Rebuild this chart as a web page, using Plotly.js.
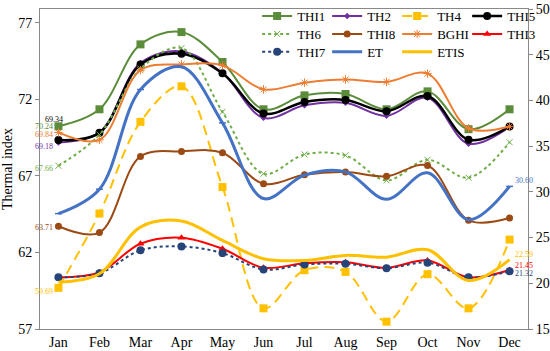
<!DOCTYPE html>
<html>
<head>
<meta charset="utf-8">
<script src="https://cdn.plot.ly/plotly-3.0.1.min.js"></script>
<style>html,body{margin:0;padding:0;background:#fff;}#chart{width:550px;height:351px;}</style>
</head>
<body>
<div id="chart"></div>
<script>
var months = ['Jan','Feb','Mar','Apr','May','Jun','Jul','Aug','Sep','Oct','Nov','Dec'];

// Left axis (Thermal index)
var THI1 = [70.24, 71.35, 75.59, 76.39, 74.44, 71.35, 72.26, 72.35, 71.35, 72.52, 70.05, 71.35];
var TH2  = [69.18, 69.85, 74.37, 75.13, 73.72, 70.79, 71.61, 71.77, 70.92, 72.10, 69.10, 70.20];
var TH4  = [59.69, 64.54, 70.53, 72.85, 66.27, 58.35, 60.84, 60.73, 57.48, 60.58, 58.35, 62.84];
var THI5 = [69.34, 69.81, 74.28, 74.98, 73.70, 71.07, 71.83, 71.96, 71.22, 72.22, 69.36, 70.22];
var TH6  = [67.66, 69.70, 74.00, 75.35, 71.18, 67.14, 68.40, 68.34, 66.71, 68.05, 66.88, 69.20];
var THI8 = [63.71, 63.30, 68.27, 68.60, 68.51, 66.49, 67.08, 67.25, 66.97, 67.68, 64.10, 64.25];
var BGHI = [69.84, 69.35, 73.90, 74.28, 74.22, 72.65, 73.09, 73.29, 73.14, 73.68, 70.11, 70.22];

// Right axis
var THI3 = [20.66, 21.21, 24.33, 24.99, 23.78, 21.70, 22.20, 22.31, 21.70, 22.50, 20.66, 21.45];
var THI7 = [20.66, 21.10, 23.60, 24.03, 23.30, 21.51, 22.06, 22.13, 21.65, 22.25, 20.66, 21.32];
var ET   = [27.62, 30.29, 41.19, 43.68, 37.54, 29.27, 31.83, 32.19, 29.19, 32.08, 26.96, 30.60];
var ETIS = [20.12, 21.04, 26.15, 26.81, 24.69, 22.68, 22.50, 23.05, 22.86, 23.67, 20.30, 22.59];

var FONT = 'Liberation Serif, Times New Roman, serif';

function tr(name, y, color, opts) {
  return {
    type: 'scatter', mode: opts.mode || 'lines+markers', name: name, x: months, y: y,
    yaxis: opts.yaxis || 'y', legend: opts.legend,
    line: {color: color, width: opts.width || 2, shape: 'spline', smoothing: 1, dash: opts.dash || 'solid'},
    marker: {color: color, symbol: opts.symbol || 'circle', size: opts.size || 7,
             line: {color: color, width: opts.mlw || 0}},
    cliponaxis: false
  };
}

var data = [
  tr('THI1', THI1, '#5b8c3a', {symbol: 'square', size: 8, legend: 'legend'}),
  tr('TH2', TH2, '#7030a0', {symbol: 'diamond', size: 5, legend: 'legend'}),
  tr('TH4', TH4, '#ffc000', {symbol: 'square', size: 8, dash: '10px,6px', legend: 'legend'}),
  tr('THI5', THI5, '#000000', {symbol: 'circle', size: 8, width: 2.5, legend: 'legend'}),
  tr('TH6', TH6, '#70ad47', {symbol: 'x-thin-open', size: 6, mlw: 1, dash: 'dot', legend: 'legend2'}),
  tr('THI8', THI8, '#9c4a14', {symbol: 'circle', size: 7, legend: 'legend2'}),
  tr('BGHI', BGHI, '#ed7d31', {symbol: 'asterisk-open', size: 7, mlw: 1, legend: 'legend2'}),
  tr('THI3', THI3, '#ff0000', {symbol: 'triangle-up', size: 7, yaxis: 'y2', legend: 'legend2'}),
  tr('THI7', THI7, '#264478', {symbol: 'circle', size: 8, dash: 'dot', yaxis: 'y2', legend: 'legend3'}),
  tr('ET', ET, '#4472c4', {mode: 'lines+markers', symbol: 'line-ew-open', size: 5, mlw: 1.5, width: 3, yaxis: 'y2', legend: 'legend3'}),
  tr('ETIS', ETIS, '#ffc000', {mode: 'lines', width: 3, yaxis: 'y2', legend: 'legend3'})
];

var labelsLeft = [
  {v: THI5[0], c: '#000000', xs: -4, ys: 21, xa: 'center'},
  {v: THI1[0], c: '#5b8c3a', xs: -3, ys: 0, xa: 'right'},
  {v: BGHI[0], c: '#ed7d31', xs: -3, ys: -2, xa: 'right'},
  {v: TH2[0], c: '#7030a0', xs: -3, ys: -4, xa: 'right'},
  {v: TH6[0], c: '#70ad47', xs: -3, ys: -3, xa: 'right'},
  {v: THI8[0], c: '#9c4a14', xs: -3, ys: -1, xa: 'right'},
  {v: TH4[0], c: '#ffc000', xs: -3, ys: -4, xa: 'right'}
];
var labelsRight = [
  {v: ET[11], c: '#4472c4', xs: 3, ys: 6, xa: 'left'},
  {v: ETIS[11], c: '#ffc000', xs: 3, ys: 5, xa: 'left'},
  {v: THI3[11], c: '#ff0000', xs: 3, ys: 5, xa: 'left'},
  {v: THI7[11], c: '#264478', xs: 3, ys: -2, xa: 'left'}
];
var annotations = [];
labelsLeft.forEach(function(l){
  annotations.push({x: months[0], y: l.v, xref: 'x', yref: 'y', text: l.v.toFixed(2), showarrow: false,
    xanchor: l.xa, yanchor: 'middle', xshift: l.xs, yshift: l.ys, font: {family: FONT, size: 8, color: l.c}});
});
labelsRight.forEach(function(l){
  annotations.push({x: months[11], y: l.v, xref: 'x', yref: 'y2', text: l.v.toFixed(2), showarrow: false,
    xanchor: l.xa, yanchor: 'middle', xshift: l.xs, yshift: l.ys, font: {family: FONT, size: 8, color: l.c}});
});

var legBase = {orientation: 'h', xanchor: 'left', yanchor: 'middle', x: 0.445,
  bgcolor: 'rgba(0,0,0,0)', borderwidth: 0, itemwidth: 30, entrywidth: 25, entrywidthmode: 'pixels',
  font: {family: FONT, size: 13, color: '#000'}, tracegroupgap: 0};
function leg(y){ var o = JSON.parse(JSON.stringify(legBase)); o.y = y; return o; }

var axisColor = '#898989';
var layout = {
  width: 550, height: 351,
  margin: {l: 40, r: 22, t: 9, b: 22, autoexpand: false},
  paper_bgcolor: '#ffffff', plot_bgcolor: '#ffffff',
  font: {family: FONT, size: 14, color: '#000'},
  showlegend: true,
  legend: leg(0.978), legend2: leg(0.922), legend3: leg(0.866),
  xaxis: {type: 'category', range: [-0.45, 11.45], showgrid: false, zeroline: false,
    showline: true, linecolor: axisColor, linewidth: 1, mirror: true, ticks: '',
    tickfont: {family: FONT, size: 14, color: '#000'}},
  yaxis: {range: [57, 77.9], tickvals: [57, 62, 67, 72, 77], showgrid: false, zeroline: false,
    showline: true, linecolor: axisColor, linewidth: 1, ticks: 'outside', ticklen: 4, tickcolor: axisColor,
    tickfont: {family: FONT, size: 14, color: '#000'},
    title: {text: 'Thermal index', font: {family: FONT, size: 14, color: '#000'}, standoff: 6}},
  yaxis2: {range: [15, 50], tickvals: [15, 20, 25, 30, 35, 40, 45, 50], overlaying: 'y', side: 'right',
    showgrid: false, zeroline: false, showline: true, linecolor: axisColor, linewidth: 1,
    ticks: 'outside', ticklen: 4, tickcolor: axisColor,
    tickfont: {family: FONT, size: 14, color: '#000'}},
  annotations: annotations
};

Plotly.newPlot('chart', data, layout, {displayModeBar: false, staticPlot: true});
</script>
</body>
</html>
